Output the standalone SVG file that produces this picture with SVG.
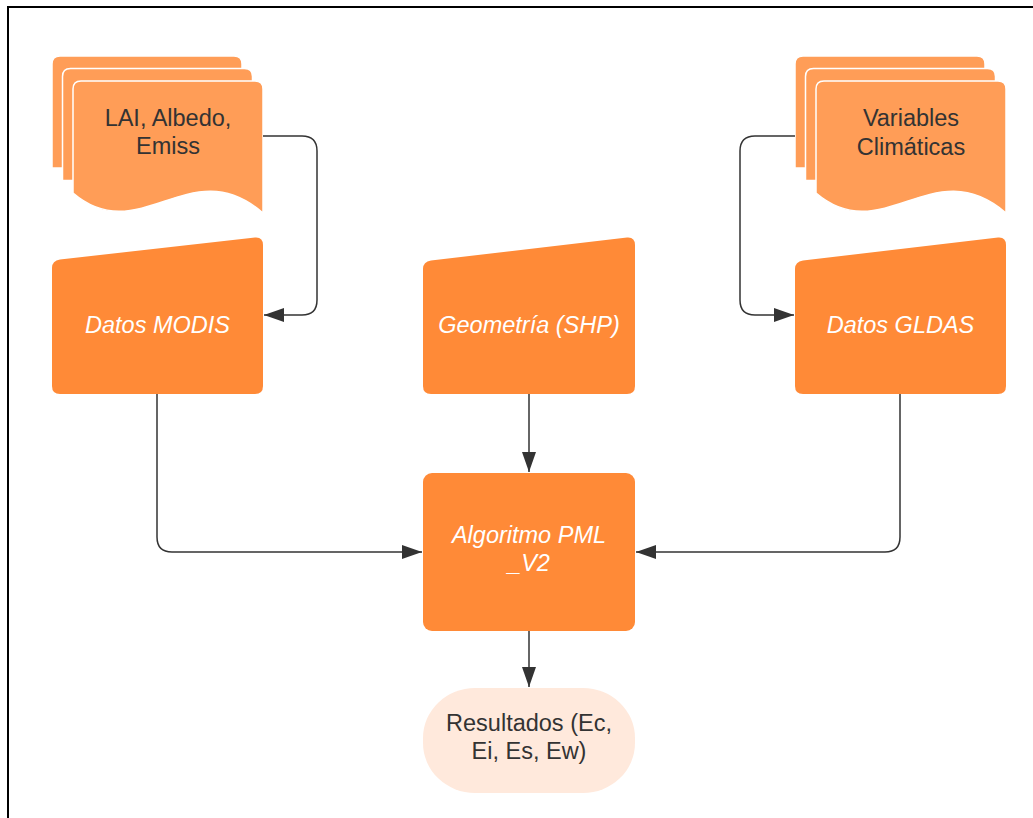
<svg xmlns="http://www.w3.org/2000/svg" width="1033" height="818" viewBox="0 0 1033 818">
<defs>
<marker id="ah" markerWidth="20" markerHeight="14" refX="20" refY="7" orient="auto" markerUnits="userSpaceOnUse">
<path d="M0,0 L20,7 L0,14 Z" fill="#333333"/>
</marker>
<style>
.doc{fill:#FF9D57;stroke:#ffffff;stroke-width:1.5}
.proc{fill:#FF8A37}
.term{fill:#FFE9DC}
.dt{font-family:"Liberation Sans",Arial,sans-serif;font-size:23.5px;fill:#333333;text-anchor:middle}
.bt{font-family:"Liberation Sans",Arial,sans-serif;font-size:23.5px;font-style:italic;fill:#ffffff;text-anchor:middle}
.con{fill:none;stroke:#333333;stroke-width:1.5}
</style>
</defs>
<rect x="0" y="0" width="1033" height="818" fill="#ffffff"/>
<rect x="8" y="7" width="1100" height="900" fill="none" stroke="#000000" stroke-width="2"/>

<g id="doc-lai">
<path class="doc" d="M52,168 V64 Q52,56 60,56 H234 Q242,56 242,64 V188 C192,125 172,225 119,168 Z"/>
<path class="doc" d="M62.5,180.5 V76.5 Q62.5,68.5 70.5,68.5 H244.5 Q252.5,68.5 252.5,76.5 V200.5 C202.5,137.5 182.5,237.5 129.5,180.5 Z"/>
<path class="doc" d="M73,193 V89 Q73,81 81,81 H255 Q263,81 263,89 V213 C190,150 140,250 73,193 Z"/>
<text class="dt" x="168" y="126">LAI, Albedo,</text>
<text class="dt" x="168" y="154">Emiss</text>
</g>

<g id="doc-vars">
<path class="doc" d="M795,168 V64 Q795,56 803,56 H977 Q985,56 985,64 V188 C935,125 915,225 862,168 Z"/>
<path class="doc" d="M805.5,180.5 V76.5 Q805.5,68.5 813.5,68.5 H987.5 Q995.5,68.5 995.5,76.5 V200.5 C945.5,137.5 925.5,237.5 872.5,180.5 Z"/>
<path class="doc" d="M816,193 V89 Q816,81 824,81 H998 Q1006,81 1006,89 V213 C933,150 883,250 816,193 Z"/>
<text class="dt" x="911" y="126">Variables</text>
<text class="dt" x="911" y="155">Climáticas</text>
</g>

<g id="modis">
<path class="proc" d="M52,268 Q52,260.5 60,259.5 L255,237.5 Q263,236.8 263,245 V386 Q263,394 255,394 H60 Q52,394 52,386 Z"/>
<text class="bt" x="157.5" y="333">Datos MODIS</text>
</g>

<g id="geometria">
<path class="proc" d="M423,269 Q423,261.5 431,260.5 L627,237.5 Q635,236.8 635,245 V386 Q635,394 627,394 H431 Q423,394 423,386 Z"/>
<text class="bt" x="529" y="333">Geometría (SHP)</text>
</g>

<g id="gldas">
<path class="proc" d="M795,269 Q795,261.5 803,260.5 L998,237.5 Q1006,236.8 1006,245 V386 Q1006,394 998,394 H803 Q795,394 795,386 Z"/>
<text class="bt" x="900.5" y="333">Datos GLDAS</text>
</g>

<g id="algoritmo">
<rect class="proc" x="423" y="473" width="212" height="158" rx="9" ry="9"/>
<text class="bt" x="529" y="543">Algoritmo PML</text>
<text class="bt" x="529" y="571">_V2</text>
</g>

<g id="resultados">
<rect class="term" x="423" y="688" width="212" height="105" rx="52" ry="50"/>
<text class="dt" x="529" y="731">Resultados (Ec,</text>
<text class="dt" x="529" y="759">Ei, Es, Ew)</text>
</g>

<g id="connectors">
<path class="con" marker-end="url(#ah)" d="M263,136 H302 Q317,136 317,151 V300 Q317,315 302,315 H264"/>
<path class="con" marker-end="url(#ah)" d="M795,136 H755 Q740,136 740,151 V300 Q740,315 755,315 H794"/>
<path class="con" marker-end="url(#ah)" d="M157,394 V537 Q157,552 172,552 H422"/>
<path class="con" marker-end="url(#ah)" d="M529,394 V472"/>
<path class="con" marker-end="url(#ah)" d="M900,394 V537 Q900,552 885,552 H636"/>
<path class="con" marker-end="url(#ah)" d="M529,631 V687"/>
</g>
</svg>
